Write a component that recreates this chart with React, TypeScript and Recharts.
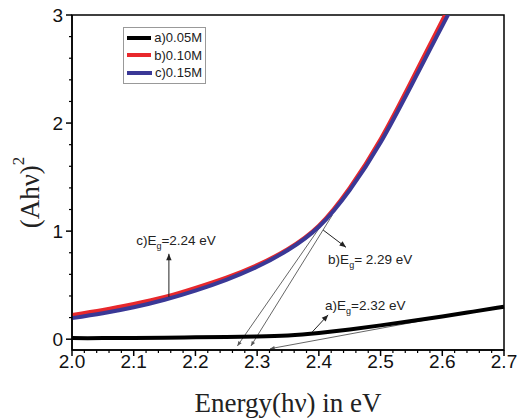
import React from "react";
import {
  Legend,
  Line,
  LineChart,
  ReferenceArea,
  ReferenceDot,
  ReferenceLine,
  XAxis,
  YAxis,
} from "recharts";

// photon energy (eV) and (Ahv)^2 for the three concentrations
const ENERGY = [2.0, 2.05, 2.1, 2.15, 2.2, 2.25, 2.3, 2.35, 2.4, 2.45, 2.5, 2.55, 2.6, 2.65, 2.7];
const SERIES_A = [0.01, 0.01, 0.012, 0.014, 0.017, 0.02, 0.025, 0.035, 0.058, 0.09, 0.128, 0.168, 0.21, 0.255, 0.3];
const SERIES_B = [0.225, 0.27, 0.325, 0.39, 0.475, 0.57, 0.685, 0.835, 1.05, 1.4, 1.85, 2.39, 2.95, 3.5, 4.05];
const SERIES_C = [0.195, 0.24, 0.295, 0.365, 0.45, 0.55, 0.67, 0.825, 1.04, 1.38, 1.82, 2.35, 2.9, 3.45, 4.0];

const SERIES_NAMES = ["a)0.05M", "b)0.10M", "c)0.15M"];

const X_TICKS = [
  2.0, 2.02, 2.04, 2.06, 2.08, 2.1, 2.12, 2.14, 2.16, 2.18, 2.2, 2.22, 2.24, 2.26, 2.28, 2.3, 2.32, 2.34,
  2.36, 2.38, 2.4, 2.42, 2.44, 2.46, 2.48, 2.5, 2.52, 2.54, 2.56, 2.58, 2.6, 2.62, 2.64, 2.66, 2.68, 2.7,
];
const Y_TICKS = [0, 0.2, 0.4, 0.6, 0.8, 1, 1.2, 1.4, 1.6, 1.8, 2, 2.2, 2.4, 2.6, 2.8, 3];

// tangent extrapolations down to the energy axis
const TANGENTS = [
  { from: [2.418, 1.17], to: [2.268, -0.062] },
  { from: [2.422, 1.15], to: [2.29, -0.062] },
  { from: [2.585, 0.19], to: [2.321, -0.088] },
];

// pointer arrows from the curves to the labels
const POINTERS = [
  { from: [2.157, 0.39], to: [2.157, 0.79] },
  { from: [2.407, 1.01], to: [2.444, 0.85] },
  { from: [2.389, 0.065], to: [2.415, 0.225] },
];

const LABELS = [
  { x: 2.104, y: 0.87, pre: "c)E", post: "=2.24 eV" },
  { x: 2.415, y: 0.7, pre: "b)E", post: "= 2.29 eV" },
  { x: 2.41, y: 0.27, pre: "a)E", post: "=2.32 eV" },
];

const DATA = ENERGY.map((e, i) => ({ e, a: SERIES_A[i], b: SERIES_B[i], c: SERIES_C[i] }));

const SANS = "'Liberation Sans', Arial, sans-serif";
const SERIF = "'Liberation Serif', 'Times New Roman', serif";

const isMajor = (v: number, step: number) => Math.abs(v / step - Math.round(v / step)) < 1e-6;

function XTick({ x, y, payload }: any) {
  const major = isMajor(payload.value, 0.1);
  return (
    <g>
      <line x1={x} x2={x} y1={y} y2={y + (major ? 6 : 3)} stroke="#000" strokeWidth={major ? 1.5 : 1.2} />
      {major && (
        <text x={x} y={y + 18} textAnchor="middle" fontFamily={SANS} fontSize={19} fill="#111">
          {payload.value.toFixed(1)}
        </text>
      )}
    </g>
  );
}

function YTick({ x, y, payload }: any) {
  const major = isMajor(payload.value, 1);
  return (
    <g>
      <line x1={x - (major ? 6 : 3)} x2={x} y1={y} y2={y} stroke="#000" strokeWidth={major ? 1.5 : 1.2} />
      {major && (
        <text x={x - 9} y={y + 7} textAnchor="end" fontFamily={SANS} fontSize={19} fill="#111">
          {payload.value}
        </text>
      )}
    </g>
  );
}

function YLabel({ viewBox }: any) {
  const cx = viewBox.x + 30;
  const cy = viewBox.y + viewBox.height / 2 + 10;
  return (
    <text x={cx} y={cy} transform={`rotate(-90 ${cx} ${cy})`} textAnchor="middle" dominantBaseline="central" fontFamily={SERIF} fontSize={27} fill="#222">
      (Ahν)
      <tspan fontSize={17} dy={-12}>2</tspan>
    </text>
  );
}

function arrowShape(color: string, width: number, head: number) {
  return (p: any) => {
    const { x1, y1, x2, y2 } = p;
    const ang = Math.atan2(y2 - y1, x2 - x1);
    const hx1 = x2 - head * Math.cos(ang - 0.4);
    const hy1 = y2 - head * Math.sin(ang - 0.4);
    const hx2 = x2 - head * Math.cos(ang + 0.4);
    const hy2 = y2 - head * Math.sin(ang + 0.4);
    return (
      <g>
        <line x1={x1} y1={y1} x2={x2} y2={y2} stroke={color} strokeWidth={width} />
        <polygon points={`${x2},${y2} ${hx1},${hy1} ${hx2},${hy2}`} fill={color} />
      </g>
    );
  };
}

function labelShape(pre: string, post: string) {
  return (p: any) => (
    <text x={p.cx} y={p.cy} fontFamily={SANS} fontSize={13.5} fill="#222">
      {pre}
      <tspan fontSize={9} dy={4}>g</tspan>
      <tspan dy={-4}>{post}</tspan>
    </text>
  );
}

function LegendBox({ payload }: any) {
  return (
    <div
      style={{
        border: "1px solid #999",
        background: "#fff",
        padding: "1px 3px",
        width: 75,
        fontFamily: SANS,
        fontSize: 13,
        color: "#222",
      }}
    >
      {(payload || []).map((p: any) => (
        <div key={p.value} style={{ display: "flex", alignItems: "center", height: 17.5 }}>
          <span style={{ display: "inline-block", width: 28, height: 4, background: p.color, marginRight: 3 }} />
          {p.value}
        </div>
      ))}
    </div>
  );
}

export default function App() {
  return (
    <div style={{ position: "absolute", left: 0, top: 0, background: "#fff" }}>
      <LineChart width={524} height={419} data={DATA} margin={{ top: 15, right: 20, left: 0, bottom: 0 }}>
        <XAxis
          dataKey="e"
          type="number"
          domain={[2.0, 2.7]}
          ticks={X_TICKS}
          interval={0}
          height={69}
          tickSize={0}
          tickMargin={0}
          tickLine={false}
          tick={<XTick />}
          axisLine={{ stroke: "#000", strokeWidth: 1.5 }}
          label={{
            value: "Energy(hν) in eV",
            position: "insideBottom",
            offset: 7,
            style: { fontFamily: SERIF, fontSize: 27, fill: "#222" },
          }}
        />
        <YAxis
          type="number"
          domain={[-0.1, 3]}
          allowDataOverflow
          ticks={Y_TICKS}
          interval={0}
          width={72}
          tickSize={0}
          tickMargin={0}
          tickLine={false}
          tick={<YTick />}
          axisLine={{ stroke: "#000", strokeWidth: 1.5 }}
          label={<YLabel />}
        />
        <ReferenceArea x1={2.0} x2={2.7} y1={-0.1} y2={3} fill="none" stroke="#000" strokeWidth={1.5} />
        {TANGENTS.map((t, i) => (
          <ReferenceLine
            key={`t${i}`}
            segment={[
              { x: t.from[0], y: t.from[1] },
              { x: t.to[0], y: t.to[1] },
            ]}
            ifOverflow="visible"
            shape={arrowShape("#555", 0.9, 5)}
          />
        ))}
        <Line type="natural" dataKey="a" name={SERIES_NAMES[0]} stroke="#000" strokeWidth={4} dot={false} isAnimationActive={false} />
        <Line type="natural" dataKey="b" name={SERIES_NAMES[1]} stroke="#e8282c" strokeWidth={4} dot={false} isAnimationActive={false} />
        <Line type="natural" dataKey="c" name={SERIES_NAMES[2]} stroke="#3a3896" strokeWidth={4} dot={false} isAnimationActive={false} />
        {POINTERS.map((t, i) => (
          <ReferenceLine
            key={`p${i}`}
            segment={[
              { x: t.from[0], y: t.from[1] },
              { x: t.to[0], y: t.to[1] },
            ]}
            ifOverflow="visible"
            shape={arrowShape("#222", 1, 7)}
          />
        ))}
        {LABELS.map((l, i) => (
          <ReferenceDot key={`l${i}`} x={l.x} y={l.y} r={0} ifOverflow="visible" shape={labelShape(l.pre, l.post)} />
        ))}
        <Legend
          layout="vertical"
          align="center"
          verticalAlign="middle"
          content={<LegendBox />}
          wrapperStyle={{ left: 123, top: 27, width: "auto", height: "auto" }}
        />
      </LineChart>
    </div>
  );
}
